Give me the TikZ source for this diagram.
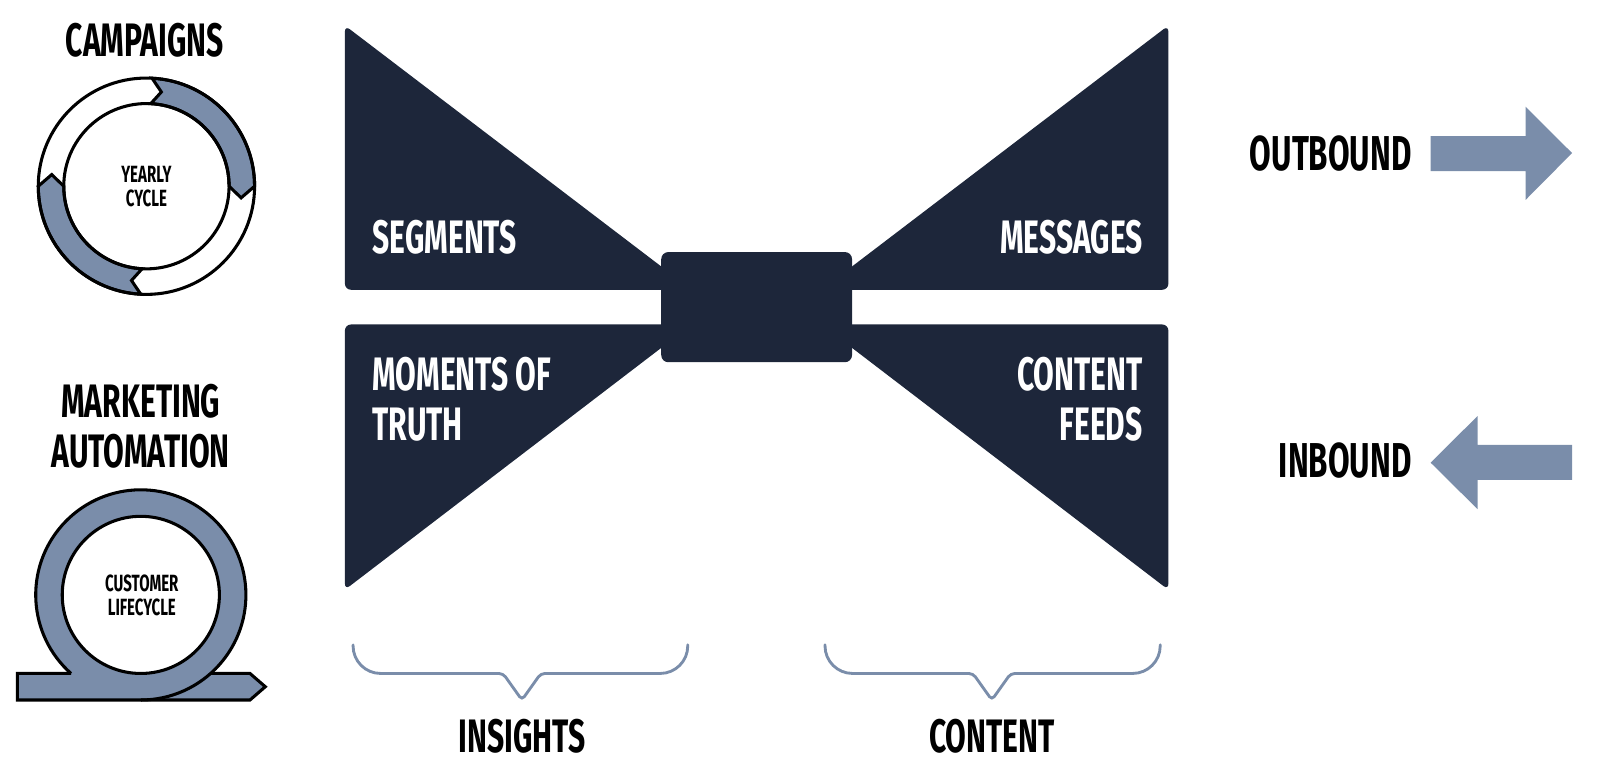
\documentclass[tikz,border=0pt]{standalone}
\usepackage{fontspec}
\setmainfont{Fira Sans}
\newfontfamily\bebas[FakeStretch=0.64]{Fira Sans}
\definecolor{navy}{HTML}{1D263A}
\definecolor{steel}{HTML}{7A8DAA}
\begin{document}
\begin{tikzpicture}[x=1pt,y=1pt,
  lbl/.style={font=\bebas\bfseries\fontsize{46}{49}\selectfont, inner sep=0pt, text=black},
  wlbl/.style={lbl, text=white},
  arrowlbl/.style={font=\bebas\bfseries\fontsize{48}{50}\selectfont, inner sep=0pt},
  small/.style={font=\bebas\bfseries\fontsize{23}{23.5}\selectfont, inner sep=0pt, align=center},
  wing/.style={fill=navy, rounded corners=6pt},
  knot/.style={fill=navy, rounded corners=7pt},
  ring/.style={draw=black, line width=3pt},
  bluearrow/.style={fill=steel, draw=black, line width=3pt, line join=miter},
  brace/.style={draw=steel, line width=2.8pt, line cap=round},
  bigarrow/.style={fill=steel}
]
\useasboundingbox (0,0) rectangle (1568,768);

% ---------- bow tie ----------
\fill[wing] (338,743) -- (338,484) -- (678,484) -- cycle;
\fill[wing] (338,450) -- (678,450) -- (338,190) -- cycle;
\fill[wing] (1145,743) -- (1145,484) -- (805,484) -- cycle;
\fill[wing] (1145,450) -- (805,450) -- (1145,190) -- cycle;
\node[knot, minimum width=187pt, minimum height=108pt] (knot) at (741.5,467) {};

\node[wlbl, anchor=base west] (seg) at (365,520) {SEGMENTS};
\node[wlbl, anchor=north west, align=left] (mot) at (365,418) {MOMENTS OF\\TRUTH};
\node[wlbl, anchor=base east] (msg) at (1120,520) {MESSAGES};
\node[wlbl, anchor=north east, align=right] (cf) at (1120,418) {CONTENT\\FEEDS};

% ---------- braces ----------
\coordinate (b1l) at (346,136);
\coordinate (b1r) at (674,136);
\coordinate (b1t) at (511.5,82);
\draw[brace] (b1l) [rounded corners=27pt] -- (346,108) -- (420,108) [rounded corners=4pt] -- (493,108) -- (b1t) -- (530,108) -- (600,108) [rounded corners=27pt] -- (674,108) -- (b1r);
\node[lbl, anchor=base] (ins) at (511.5,31) {INSIGHTS};

\coordinate (b2l) at (808.5,136);
\coordinate (b2r) at (1137,136);
\coordinate (b2t) at (972,82);
\draw[brace] (b2l) [rounded corners=27pt] -- (808.5,108) -- (880,108) [rounded corners=4pt] -- (953.5,108) -- (b2t) -- (990.5,108) -- (1060,108) [rounded corners=27pt] -- (1137,108) -- (b2r);
\node[lbl, anchor=base] (cont) at (972,31) {CONTENT};

% ---------- outbound / inbound ----------
\node[arrowlbl, anchor=base east] (out) at (1383.5,601) {OUTBOUND};
\fill[bigarrow] (1402,600.4) -- (1402,634.7) -- (1495,634.7) -- (1495,663.5) -- (1540.6,618) -- (1495,572) -- (1495,600.4) -- cycle;
\node[arrowlbl, anchor=base east] (in) at (1383.5,300.5) {INBOUND};
\fill[bigarrow] (1540.6,297.6) -- (1540.6,332) -- (1448,332) -- (1448,360.3) -- (1402,314.6) -- (1448,269) -- (1448,297.6) -- cycle;

% ---------- campaigns ----------
\node[lbl, anchor=base] (camp) at (142,712.5) {CAMPAIGNS};
\coordinate (C) at (143.5,585.5);
\fill[white] (C) circle (106);
\filldraw[bluearrow] ([shift={(C)}]87:106) arc[start angle=87, end angle=0, radius=106]
  -- ([shift={(C)}]-7:93.5) -- ([shift={(C)}]0:81)
  arc[start angle=0, end angle=87, radius=81] -- ([shift={(C)}]81:93.5) -- cycle;
\filldraw[bluearrow] ([shift={(C)}]267:106) arc[start angle=267, end angle=180, radius=106]
  -- ([shift={(C)}]173:93.5) -- ([shift={(C)}]180:81)
  arc[start angle=180, end angle=267, radius=81] -- ([shift={(C)}]261:93.5) -- cycle;
\draw[ring] (C) circle (106);
\draw[ring] (C) circle (81);
\node[small] (yc) at (143.5,585.5) {YEARLY\\CYCLE};

% ---------- marketing automation ----------
\node[lbl, anchor=north, align=center] (ma) at (138,392) {MARKETING\\AUTOMATION};
\coordinate (S) at (138,185);
\fill[steel] (S) circle (103);
\fill[steel] (17,82) rectangle (245,108);
\fill[steel] (245,108) -- (260,95) -- (245,82) -- cycle;
\fill[white] (S) circle (77);
\draw[ring] (S) circle (77);
\draw[ring] ([shift={(S)}]228.4:103) arc[start angle=228.4, end angle=-90, radius=103];
\draw[ring] (69.6,108) -- (17,108) -- (17,82) -- (245,82) -- (260,95) -- (245,108) -- (206.4,108);
\node[small] (cl) at (139,185) {CUSTOMER\\LIFECYCLE};
\end{tikzpicture}
\end{document}
